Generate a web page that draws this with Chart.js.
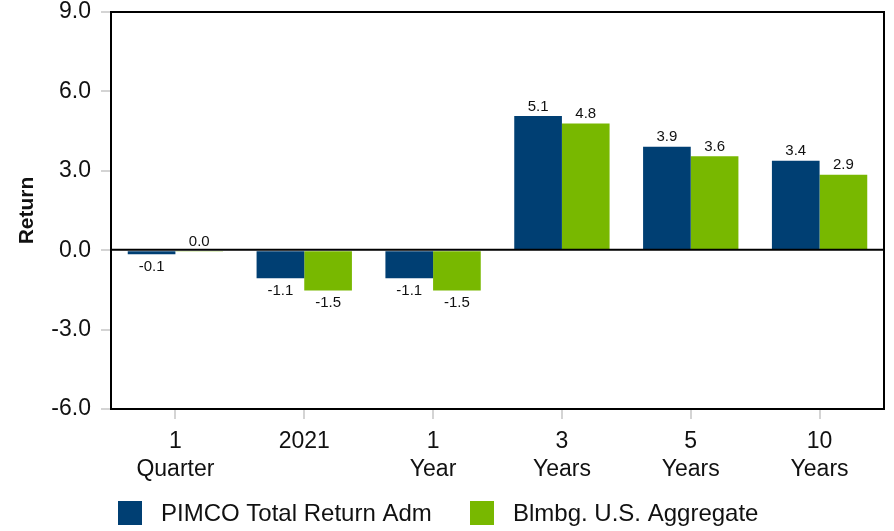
<!DOCTYPE html>
<html>
<head>
<meta charset="utf-8">
<script src="https://cdn.jsdelivr.net/npm/chart.js@4.4.1/dist/chart.umd.min.js"></script>
<style>
  html, body { margin: 0; padding: 0; background: #fff; }
  #wrap { width: 894px; height: 531px; }
</style>
</head>
<body>
<div id="wrap"><canvas id="myChart" width="894" height="531"></canvas></div>
<script>
const categories = [['1', 'Quarter'], ['2021'], ['1', 'Year'], ['3', 'Years'], ['5', 'Years'], ['10', 'Years']];
const pimcoValues = [-0.15, -1.06, -1.06, 5.07, 3.91, 3.38];
const aggValues = [-0.05, -1.52, -1.52, 4.79, 3.55, 2.85];
const seriesNames = ['PIMCO Total Return Adm', 'Blmbg. U.S. Aggregate'];
const seriesColors = ['#003F73', '#78B800'];
const yTicks = [-6, -3, 0, 3, 6, 9];

const FONT = 'Arial, "Liberation Sans", sans-serif';

// labels over / under each bar
const barLabels = {
  id: 'barLabels',
  afterDraw(chart) {
    const ctx = chart.ctx;
    ctx.save();
    ctx.font = '15px ' + FONT;
    ctx.fillStyle = '#111';
    ctx.textAlign = 'center';
    chart.data.datasets.forEach((ds, i) => {
      chart.getDatasetMeta(i).data.forEach((bar, j) => {
        const v = Math.round(ds.data[j] * 10) / 10;
        const txt = v.toFixed(1);
        if (v >= 0) {
          ctx.textBaseline = 'bottom';
          ctx.fillText(txt, bar.x, Math.min(bar.y, bar.base) - 2);
        } else {
          ctx.textBaseline = 'top';
          ctx.fillText(txt, bar.x, Math.max(bar.y, bar.base) + 5);
        }
      });
    });
    ctx.restore();
  }
};

// box around plot, zero line, legend
const frame = {
  id: 'frame',
  afterDatasetsDraw(chart) {
    const {ctx, chartArea: a} = chart;
    const y0 = chart.scales.y.getPixelForValue(0);
    ctx.save();
    ctx.strokeStyle = '#000';
    ctx.lineWidth = 2;
    ctx.beginPath();
    ctx.moveTo(a.left, a.top);
    ctx.lineTo(a.right, a.top);
    ctx.lineTo(a.right, a.bottom);
    ctx.moveTo(a.left, y0 - 0.5);
    ctx.lineTo(a.right, y0 - 0.5);
    ctx.stroke();
    ctx.restore();
  },
  afterDraw(chart) {
    const ctx = chart.ctx;
    const ly = chart.height - 18;
    const xs = [118, 470];
    ctx.save();
    ctx.font = '24px ' + FONT;
    ctx.textBaseline = 'middle';
    ctx.textAlign = 'left';
    seriesNames.forEach((name, i) => {
      ctx.fillStyle = seriesColors[i];
      ctx.fillRect(xs[i], ly - 12, 24, 24);
      ctx.fillStyle = '#111';
      ctx.fillText(name, xs[i] + 43, ly + 1);
    });
    ctx.restore();
  }
};

new Chart(document.getElementById('myChart'), {
  type: 'bar',
  data: {
    labels: categories,
    datasets: [
      {label: seriesNames[0], data: pimcoValues, backgroundColor: seriesColors[0]},
      {label: seriesNames[1], data: aggValues, backgroundColor: seriesColors[1]},
    ],
  },
  options: {
    responsive: false,
    animation: false,
    layout: {padding: {top: 12, right: 10, left: 0, bottom: 49}},
    datasets: {bar: {categoryPercentage: 0.74, barPercentage: 1, borderWidth: 0}},
    plugins: {legend: {display: false}, tooltip: {enabled: false}},
    scales: {
      x: {
        afterFit: (scale) => { scale.height = 73; scale.paddingLeft = 0; scale.paddingRight = 0; },
        grid: {drawOnChartArea: false, drawTicks: true, tickLength: 10, offset: false, color: '#d4d4d4', lineWidth: 2},
        border: {display: true, color: '#000', width: 2},
        ticks: {color: '#111', padding: 9, maxRotation: 0, font: {family: FONT, size: 23, lineHeight: 1.22}},
      },
      y: {
        min: -6,
        max: 9,
        afterBuildTicks: (scale) => { scale.ticks = yTicks.map(v => ({value: v})); },
        afterFit: (scale) => { scale.width = 111; scale.paddingTop = 0; scale.paddingBottom = 0; },
        grid: {drawOnChartArea: false, drawTicks: true, tickLength: 10, color: '#d4d4d4', lineWidth: 2},
        border: {display: true, color: '#000', width: 2},
        ticks: {color: '#111', padding: 10, font: {family: FONT, size: 23}, callback: (v) => Number(v).toFixed(1)},
        title: {display: true, text: 'Return', color: '#111', padding: {top: 15, bottom: 0}, font: {family: FONT, size: 21, weight: 'bold'}},
      },
    },
  },
  plugins: [frame, barLabels],
});
</script>
</body>
</html>
